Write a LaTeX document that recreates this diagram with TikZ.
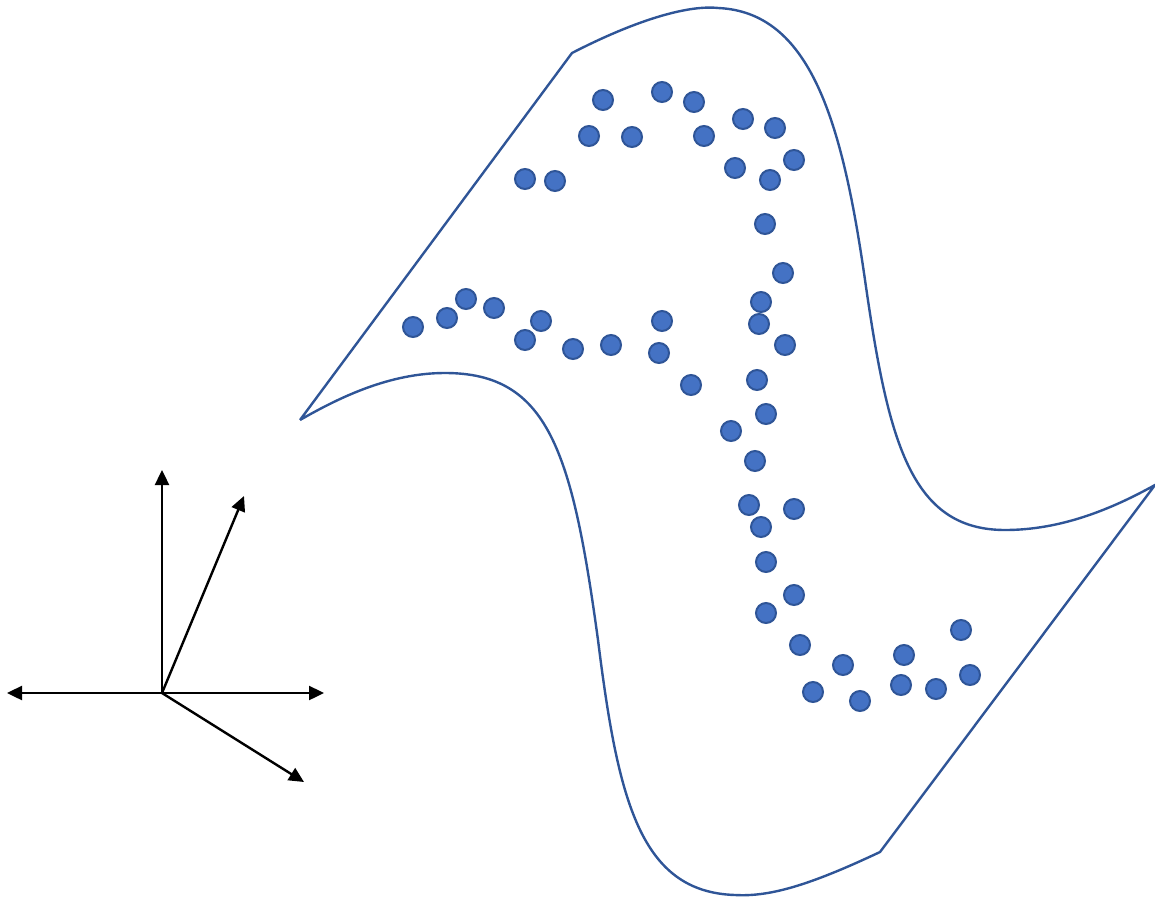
\documentclass[tikz,border=0pt]{standalone}
\usepackage{xcolor}
\usepackage{tikz}
\usetikzlibrary{arrows.meta}

\definecolor{dotfill}{HTML}{4472C4}
\definecolor{dotedge}{HTML}{2F5597}

\begin{document}
\begin{tikzpicture}[x=1pt,y=-1pt,
  pt/.style={circle,fill=dotfill,draw=dotedge,line width=2pt,minimum size=20pt,inner sep=0pt},
  axis/.style={line width=2.4pt,-{Triangle[length=15pt,width=14pt]}},
  sheet/.style={draw=dotedge,line width=2.4pt}]
\useasboundingbox (0,0) rectangle (1155,904);

% surface
\coordinate (s1) at (300,420);
\coordinate (s2) at (572,53);
\coordinate (s3) at (1155,485);
\coordinate (s4) at (880,852);
\draw[sheet] (s1) -- (s2)
  .. controls (640,18) and (690,5) .. (718,8)
  .. controls (810,12) and (842,120) .. (865,280)
  .. controls (888,440) and (910,530) .. (1005,530)
  .. controls (1060,530) and (1110,510) .. (s3)
  -- (s4)
  .. controls (810,885) and (770,897) .. (735,895)
  .. controls (640,892) and (618,800) .. (598,640)
  .. controls (572,450) and (548,373) .. (445,373)
  .. controls (390,373) and (340,397) .. (s1);

% upper arc
\node[pt] (a1) at (603,100) {};
\node[pt] (a2) at (662,92) {};
\node[pt] (a3) at (694,102) {};
\node[pt] (a4) at (743,119) {};
\node[pt] (a5) at (775,128) {};
\node[pt] (a6) at (589,136) {};
\node[pt] (a7) at (632,137) {};
\node[pt] (a8) at (704,136) {};
\node[pt] (a9) at (735,168) {};
\node[pt] (a10) at (794,160) {};
\node[pt] (a11) at (770,180) {};
\node[pt] (a12) at (525,179) {};
\node[pt] (a13) at (555,181) {};

% stem and lower arc
\node[pt] (b1) at (765,224) {};
\node[pt] (b2) at (783,273) {};
\node[pt] (b3) at (761,302) {};
\node[pt] (b4) at (759,324) {};
\node[pt] (b5) at (785,345) {};
\node[pt] (b6) at (757,380) {};
\node[pt] (b7) at (766,414) {};
\node[pt] (b8) at (731,431) {};
\node[pt] (b9) at (755,461) {};
\node[pt] (b10) at (749,505) {};
\node[pt] (b11) at (761,527) {};
\node[pt] (b12) at (794,509) {};
\node[pt] (b13) at (766,562) {};
\node[pt] (b14) at (794,595) {};
\node[pt] (b15) at (766,613) {};
\node[pt] (b16) at (800,645) {};
\node[pt] (b17) at (843,665) {};
\node[pt] (b18) at (904,655) {};
\node[pt] (b19) at (961,630) {};
\node[pt] (b20) at (813,692) {};
\node[pt] (b21) at (860,701) {};
\node[pt] (b22) at (901,685) {};
\node[pt] (b23) at (936,689) {};
\node[pt] (b24) at (970,675) {};

% left branch
\node[pt] (c1) at (413,327) {};
\node[pt] (c2) at (447,318) {};
\node[pt] (c3) at (466,299) {};
\node[pt] (c4) at (494,308) {};
\node[pt] (c5) at (541,321) {};
\node[pt] (c6) at (525,340) {};
\node[pt] (c7) at (573,349) {};
\node[pt] (c8) at (611,345) {};
\node[pt] (c9) at (662,321) {};
\node[pt] (c10) at (659,353) {};
\node[pt] (c11) at (691,385) {};

% axes
\coordinate (o) at (162,693);
\coordinate (up) at (162,470);
\coordinate (right) at (324,693);
\coordinate (left) at (7,693);
\coordinate (diag) at (244,496);
\coordinate (down) at (304,782);
\draw[axis] (o) -- (up);
\draw[axis] (o) -- (right);
\draw[axis] (o) -- (left);
\draw[axis] (o) -- (diag);
\draw[axis] (o) -- (down);
\end{tikzpicture}
\end{document}
